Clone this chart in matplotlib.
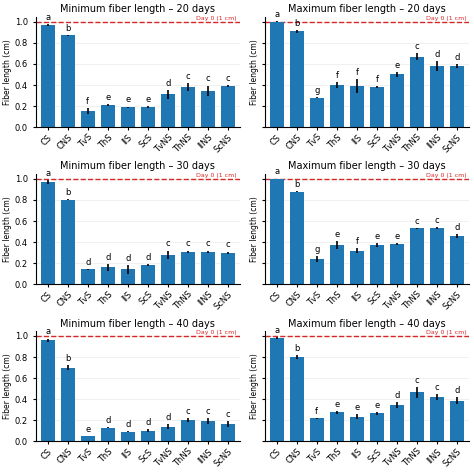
import matplotlib
matplotlib.use("Agg")
import matplotlib.pyplot as plt
import numpy as np

cats = ["CS","CNS","TvS","ThS","IIS","ScS","TvNS","ThNS","IINS","ScNS"]
titles = ["Minimum fiber length – 20 days","Maximum fiber length – 20 days",
          "Minimum fiber length – 30 days","Maximum fiber length – 30 days",
          "Minimum fiber length – 40 days","Maximum fiber length – 40 days"]
min20 = [0.97,0.87,0.155,0.21,0.19,0.19,0.31,0.38,0.345,0.39]
min20_err = [0.01,0.005,0.03,0.005,0.005,0.01,0.04,0.04,0.05,0.01]
min20_let = list("abfeeedccc")
max20 = [1.0,0.91,0.28,0.40,0.39,0.38,0.50,0.67,0.58,0.58]
max20_err = [0.003,0.015,0.005,0.025,0.07,0.01,0.025,0.03,0.05,0.015]
max20_let = list("abgfffecdd")
min30 = [0.97,0.80,0.14,0.16,0.14,0.18,0.28,0.31,0.31,0.30]
min30_err = [0.015,0.005,0.005,0.03,0.04,0.01,0.04,0.01,0.01,0.01]
min30_let = list("abddddcccc")
max30 = [1.0,0.88,0.24,0.37,0.32,0.37,0.38,0.53,0.53,0.46]
max30_err = [0.003,0.005,0.03,0.04,0.02,0.02,0.01,0.005,0.01,0.02]
max30_let = list("abgefeeccd")
min40 = [0.96,0.70,0.05,0.13,0.09,0.10,0.14,0.20,0.19,0.165]
min40_err = [0.015,0.02,0.003,0.005,0.005,0.015,0.02,0.02,0.03,0.025]
min40_let = list("abeddddccc")
max40 = [0.98,0.80,0.22,0.275,0.235,0.265,0.345,0.465,0.42,0.385]
max40_err = [0.01,0.015,0.005,0.015,0.02,0.015,0.03,0.05,0.025,0.035]
max40_let = list("abfeeedccd")

data = [(min20,min20_err,min20_let),(max20,max20_err,max20_let),
        (min30,min30_err,min30_let),(max30,max30_err,max30_let),
        (min40,min40_err,min40_let),(max40,max40_err,max40_let)]

fig, axes = plt.subplots(3,2,figsize=(4.74,4.72),dpi=100,sharey=True)
x = np.arange(len(cats))
for ax,(v,e,l),t in zip(axes.flat,data,titles):
    ax.bar(x,v,width=0.7,color="#1f77b4",zorder=2)
    ax.errorbar(x,v,yerr=e,fmt="none",ecolor="black",elinewidth=1.2,zorder=3)
    for xi,vi,ei,li in zip(x,v,e,l):
        ax.text(xi,vi+ei+0.02,li,ha="center",va="bottom",fontsize=6)
    ax.axhline(1.0,color="#d62728",ls="--",lw=1,zorder=1)
    ax.text(9.45,1.005,"Day 0 (1 cm)",color="#d62728",fontsize=4.5,ha="right",va="bottom")
    ax.set_title(t,fontsize=7,pad=3)
    ax.set_ylim(0,1.05)
    ax.set_xlim(-0.6,9.6)
    ax.set_yticks([0,0.2,0.4,0.6,0.8,1.0])
    ax.yaxis.grid(True,color="#eeeeee",lw=0.6,zorder=0)
    ax.set_axisbelow(True)
    ax.set_xticks(x)
    ax.set_xticklabels(cats,rotation=45,ha="right",rotation_mode="anchor",fontsize=6)
    ax.tick_params(axis="y",labelsize=6,length=2)
    ax.tick_params(axis="x",length=2,pad=2)
    ax.set_ylabel("Fiber length (cm)",fontsize=5.5,labelpad=2)
    ax.yaxis.set_tick_params(labelleft=ax in axes[:,0])
    for s in ["top","right"]:
        ax.spines[s].set_visible(False)
fig.subplots_adjust(left=0.075,right=0.99,top=0.965,bottom=0.065,wspace=0.12,hspace=0.42)
fig.savefig("out.png",dpi=100)
